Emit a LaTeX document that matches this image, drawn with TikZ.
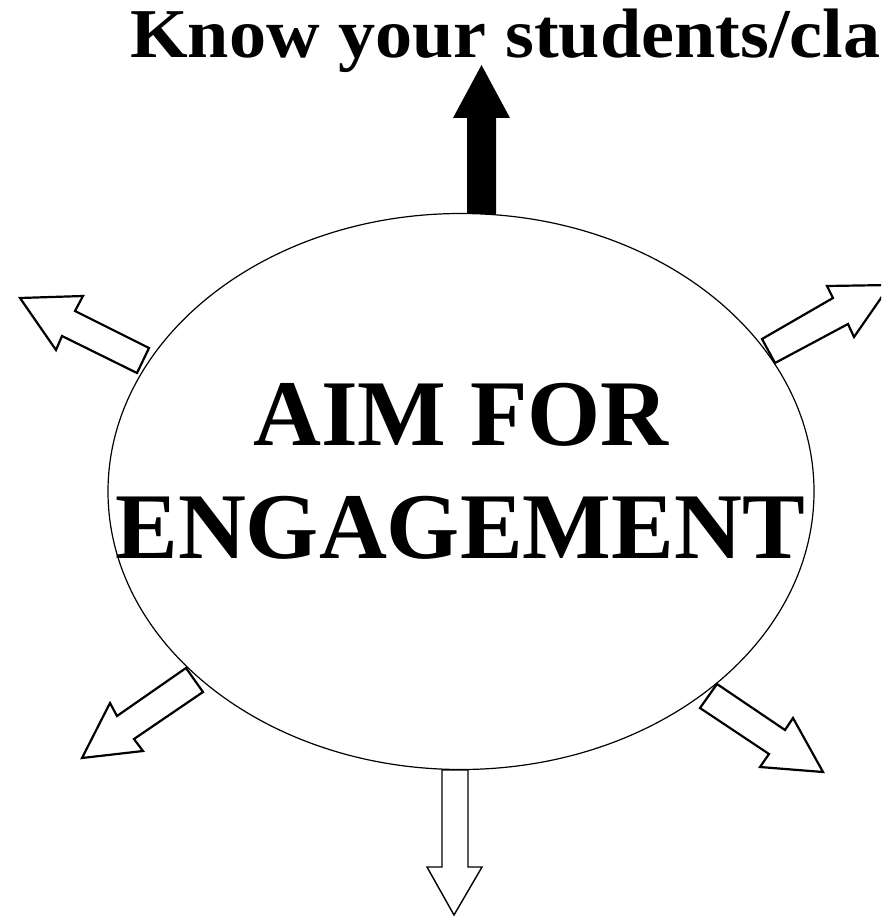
\documentclass[tikz,border=0pt]{standalone}
\usepackage{fontspec}
\setmainfont{Liberation Serif}
\begin{document}
\begin{tikzpicture}[x=1pt,y=-1pt,
  outline/.style={draw=black,fill=white,line width=2.2pt,line join=miter},
  thinoutline/.style={draw=black,fill=white,line width=1.4pt,line join=miter},
  solidarrow/.style={fill=black,draw=none},
  rim/.style={draw=black,line width=1.2pt},
  bigtext/.style={font=\bfseries\fontsize{94}{113}\selectfont,inner sep=0pt},
  titletext/.style={font=\bfseries\fontsize{70}{84}\selectfont,inner sep=0pt,xscale=1.06}]
\useasboundingbox (0,0) rectangle (881,917);
\clip (0,0) rectangle (881,917);
\fill[white] (0,0) rectangle (881,917);

% title (printed cut off at the right edge in the reference)
\node[titletext,anchor=base west] (title) at (130,58) {Know your students/cla};

% ellipse
\coordinate (c) at (461,491.5);
\draw[rim] (c) ellipse [x radius=353, y radius=278];

% text
\node[bigtext,anchor=base] (aim) at (461,445) {AIM FOR};
\node[bigtext,anchor=base] (eng) at (460,558) {ENGAGEMENT};

% top solid arrow
\fill[solidarrow] (467,214) -- (467,118) -- (453,118) -- (481.5,65) -- (510,118) -- (496,118) -- (496,214) -- cycle;

% upper-left
\draw[outline] (149,348) -- (75,311) -- (83,296) -- (20,298) -- (56,350) -- (62,336) -- (137,373) -- cycle;
% upper-right
\draw[outline] (775,363) -- (762,339) -- (833,298) -- (827,286) -- (890,285) -- (854,337) -- (848,324) -- cycle;
% lower-left
\draw[outline] (186,668) -- (203,692) -- (134,739) -- (143,751) -- (82,758) -- (110,703) -- (117,716) -- cycle;
% lower-right
\draw[outline] (717,684) -- (700,708) -- (769,754) -- (760,767) -- (823,772) -- (793,718) -- (785,730) -- cycle;
% bottom
\draw[thinoutline] (442,770) -- (442,867) -- (427,867) -- (454,915) -- (482,867) -- (468,867) -- (468,770) -- cycle;
\end{tikzpicture}
\end{document}
